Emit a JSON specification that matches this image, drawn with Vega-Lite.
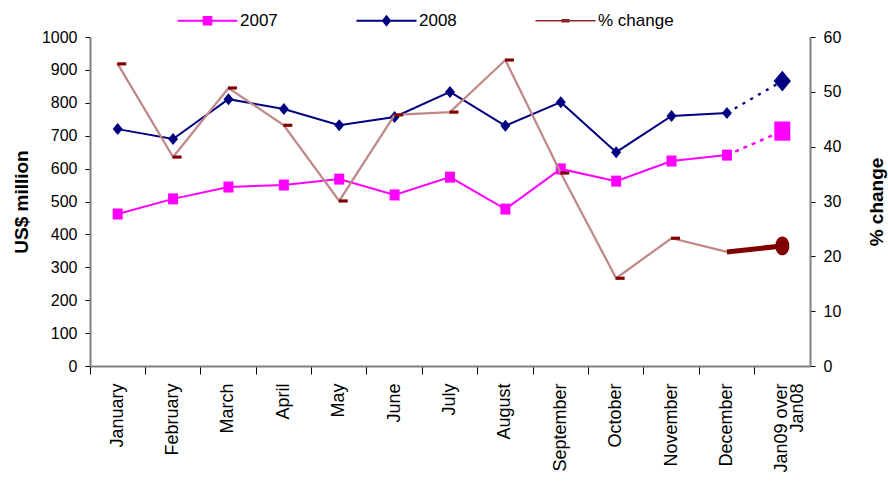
{
  "$schema": "https://vega.github.io/schema/vega-lite/v6.json",
  "width": 720,
  "height": 329,
  "autosize": {"type": "none"},
  "padding": {"left": 90, "top": 37, "right": 78, "bottom": 125},
  "config": {"font": "Liberation Sans", "view": {"stroke": null}, "axis": {"grid": false}},
  "datasets": {
    "main": [
      {"month": "January", "s2007": 462, "s2008": 720, "pct": 55.1},
      {"month": "February", "s2007": 508, "s2008": 690, "pct": 38.1},
      {"month": "March", "s2007": 544, "s2008": 811, "pct": 50.7},
      {"month": "April", "s2007": 550, "s2008": 781, "pct": 43.9},
      {"month": "May", "s2007": 568, "s2008": 732, "pct": 30.1},
      {"month": "June", "s2007": 520, "s2008": 757, "pct": 45.8},
      {"month": "July", "s2007": 574, "s2008": 833, "pct": 46.3},
      {"month": "August", "s2007": 477, "s2008": 730, "pct": 55.8},
      {"month": "September", "s2007": 599, "s2008": 802, "pct": 35.2},
      {"month": "October", "s2007": 562, "s2008": 650, "pct": 16.0},
      {"month": "November", "s2007": 623, "s2008": 760, "pct": 23.3},
      {"month": "December", "s2007": 641, "s2008": 769, "pct": 20.8},
      {"month": "Jan09 over Jan08", "s2007": 714, "s2008": 866, "pct": 21.9}
    ],
    "legend": [
      {"series": "2007"},
      {"series": "2008"},
      {"series": "% change"}
    ]
  },
  "encoding": {
    "x": {
      "field": "month", "type": "nominal", "sort": null,
      "scale": {"type": "band", "paddingInner": 0, "paddingOuter": 0},
      "axis": {
        "title": null, "labelAngle": -90, "labelFontSize": 18, "labelPadding": 9,
        "tickSize": 8, "bandPosition": 0, "domainColor": "#808080", "domainWidth": 2,
        "tickColor": "#000000", "labelColor": "#000000", "labelLineHeight": 16,
        "labelExpr": "datum.label == 'Jan09 over Jan08' ? ['Jan09 over', 'Jan08'] : datum.label"
      }
    }
  },
  "layer": [
    {
      "encoding": {
        "y": {
          "type": "quantitative",
          "scale": {"domain": [0, 1000], "nice": false},
          "axis": {
            "title": "US$ million", "titleFontSize": 19, "titleFontWeight": "bold", "titleColor": "#000000",
            "titlePadding": 10, "values": [0, 100, 200, 300, 400, 500, 600, 700, 800, 900, 1000], "format": "d",
            "labelFontSize": 16, "labelColor": "#000000", "labelPadding": 8, "tickSize": 5,
            "domainColor": "#808080", "domainWidth": 2, "tickColor": "#000000"
          }
        }
      },
      "layer": [
        {
          "data": {"name": "main"},
          "transform": [{"filter": "datum.month != 'Jan09 over Jan08'"}],
          "mark": {"type": "line", "color": "#FF00FF", "strokeWidth": 2},
          "encoding": {"y": {"field": "s2007"}}
        },
        {
          "data": {"name": "main"},
          "transform": [{"filter": {"field": "month", "oneOf": ["December", "Jan09 over Jan08"]}}],
          "mark": {"type": "line", "color": "#FF00FF", "strokeWidth": 2.5, "strokeDash": [4, 5]},
          "encoding": {"y": {"field": "s2007"}}
        },
        {
          "data": {"name": "main"},
          "transform": [{"filter": "datum.month != 'Jan09 over Jan08'"}],
          "mark": {"type": "point", "filled": true, "opacity": 1, "color": "#FF00FF", "size": 100, "shape": "M-1,-1.1L1,-1.1L1,1.1L-1,1.1Z"},
          "encoding": {"y": {"field": "s2007"}}
        },
        {
          "data": {"name": "main"},
          "transform": [{"filter": "datum.month == 'Jan09 over Jan08'"}],
          "mark": {"type": "point", "filled": true, "opacity": 1, "color": "#FF00FF", "size": 256, "shape": "M-1,-1.2L1,-1.2L1,1.2L-1,1.2Z"},
          "encoding": {"y": {"field": "s2007"}}
        },
        {
          "data": {"name": "main"},
          "transform": [{"filter": "datum.month != 'Jan09 over Jan08'"}],
          "mark": {"type": "line", "color": "#000080", "strokeWidth": 2},
          "encoding": {"y": {"field": "s2008"}}
        },
        {
          "data": {"name": "main"},
          "transform": [{"filter": {"field": "month", "oneOf": ["December", "Jan09 over Jan08"]}}],
          "mark": {"type": "line", "color": "#000080", "strokeWidth": 2.5, "strokeDash": [3, 6]},
          "encoding": {"y": {"field": "s2008"}}
        },
        {
          "data": {"name": "main"},
          "transform": [{"filter": "datum.month != 'Jan09 over Jan08'"}],
          "mark": {"type": "point", "filled": true, "opacity": 1, "color": "#000080", "size": 100, "shape": "M-1,0L0,-1.2L1,0L0,1.2Z"},
          "encoding": {"y": {"field": "s2008"}}
        },
        {
          "data": {"name": "main"},
          "transform": [{"filter": "datum.month == 'Jan09 over Jan08'"}],
          "mark": {"type": "point", "filled": true, "opacity": 1, "color": "#000080", "size": 300, "shape": "M-1,0L0,-1.2L1,0L0,1.2Z"},
          "encoding": {"y": {"field": "s2008"}}
        },
        {
          "data": {"name": "legend"},
          "mark": {"type": "point", "filled": true, "opacity": 1, "size": 0},
          "encoding": {
            "x": {"value": 0},
            "y": {"value": 0},
            "color": {
              "field": "series", "type": "nominal",
              "scale": {"domain": ["2007", "2008", "% change"], "range": ["#FF00FF", "#000080", "#8c2828"]},
              "legend": {
                "title": null, "orient": "none", "legendX": 109, "legendY": -25, "direction": "horizontal",
                "symbolSize": 256, "labelOffset": 24, "columnPadding": 78, "labelFontSize": 17,
                "labelColor": "#000000", "symbolStrokeWidth": 0, "padding": 0
              }
            },
            "shape": {
              "field": "series", "type": "nominal",
              "scale": {
                "domain": ["2007", "2008", "% change"],
                "range": [
                  "M-3.75,-0.13L3.75,-0.13L3.75,0.13L-3.75,0.13Z M-0.6,-0.6L0.6,-0.6L0.6,0.6L-0.6,0.6Z",
                  "M-3.75,-0.13L3.75,-0.13L3.75,0.13L-3.75,0.13Z M-0.6,0L0,-0.75L0.6,0L0,0.75Z",
                  "M-3.75,-0.1L3.75,-0.1L3.75,0.1L-3.75,0.1Z M-0.5,-0.22L0.5,-0.22L0.5,0.22L-0.5,0.22Z"
                ]
              },
              "legend": {
                "title": null, "orient": "none", "legendX": 109, "legendY": -25, "direction": "horizontal",
                "symbolSize": 256, "labelOffset": 24, "columnPadding": 78, "labelFontSize": 17,
                "labelColor": "#000000", "symbolStrokeWidth": 0, "padding": 0
              }
            }
          }
        }
      ]
    },
    {
      "encoding": {
        "y": {
          "type": "quantitative",
          "scale": {"domain": [0, 60], "nice": false},
          "axis": {
            "orient": "right", "title": "% change", "titleFontSize": 19, "titleFontWeight": "bold", "titleColor": "#000000",
            "titleAngle": -90, "titlePadding": 46, "values": [0, 10, 20, 30, 40, 50, 60],
            "labelFontSize": 16, "labelColor": "#000000", "labelPadding": 8, "tickSize": 5,
            "domainColor": "#808080", "domainWidth": 2, "tickColor": "#000000"
          }
        }
      },
      "layer": [
        {
          "data": {"name": "main"},
          "transform": [{"filter": "datum.month != 'Jan09 over Jan08'"}],
          "mark": {"type": "line", "color": "#c08a8a", "strokeWidth": 2.3},
          "encoding": {"y": {"field": "pct"}}
        },
        {
          "data": {"name": "main"},
          "transform": [{"filter": {"field": "month", "oneOf": ["December", "Jan09 over Jan08"]}}],
          "mark": {"type": "line", "color": "#800000", "strokeWidth": 5},
          "encoding": {"y": {"field": "pct"}}
        },
        {
          "data": {"name": "main"},
          "transform": [{"filter": {"not": {"field": "month", "oneOf": ["December", "Jan09 over Jan08"]}}}],
          "mark": {"type": "point", "filled": true, "opacity": 1, "color": "#800000", "size": 81, "xOffset": 4, "shape": "M-1,-0.35L1,-0.35L1,0.35L-1,0.35Z"},
          "encoding": {"y": {"field": "pct"}}
        },
        {
          "data": {"name": "main"},
          "transform": [{"filter": "datum.month == 'Jan09 over Jan08'"}],
          "mark": {"type": "point", "filled": true, "opacity": 1, "color": "#800000", "size": 196, "shape": "M-1,0A1,1.35 0 1,0 1,0A1,1.35 0 1,0 -1,0Z"},
          "encoding": {"y": {"field": "pct"}}
        }
      ]
    }
  ],
  "resolve": {"scale": {"y": "independent"}}
}
